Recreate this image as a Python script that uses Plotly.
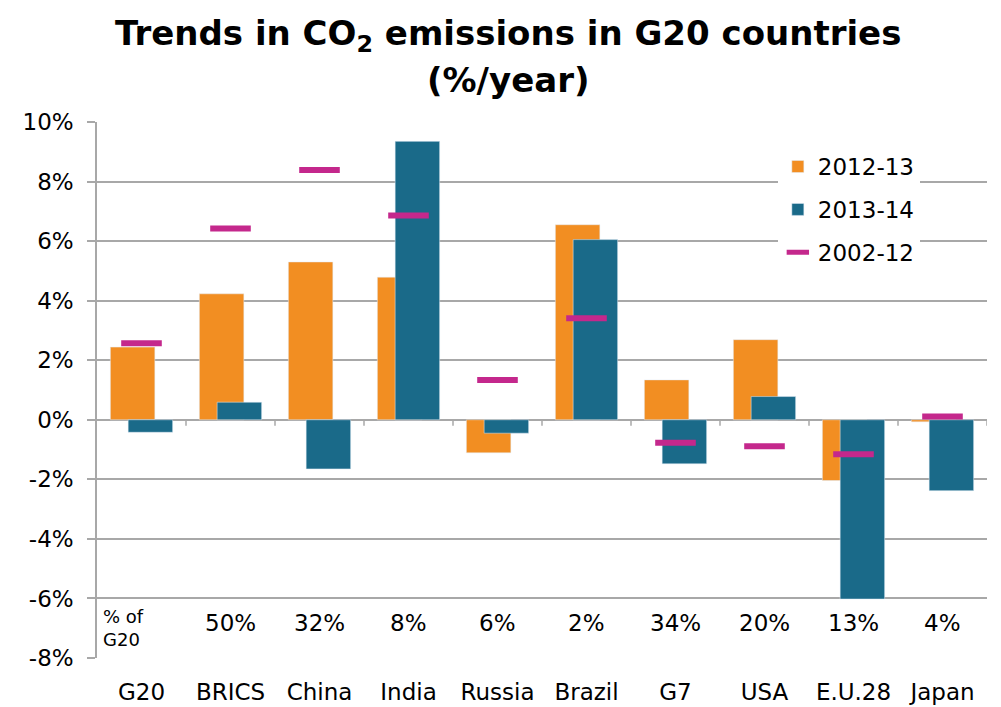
import plotly.graph_objects as go

categories = ["G20", "BRICS", "China", "India", "Russia", "Brazil", "G7", "USA", "E.U.28", "Japan"]
v_2012_13 = [2.44, 4.23, 5.30, 4.79, -1.11, 6.55, 1.34, 2.69, -2.04, -0.07]
v_2013_14 = [-0.42, 0.59, -1.65, 9.35, -0.45, 6.05, -1.48, 0.78, -6.02, -2.38]
v_2002_12 = [2.57, 6.42, 8.39, 6.86, 1.34, 3.41, -0.77, -0.89, -1.16, 0.11]
share_of_g20 = ["", "50%", "32%", "8%", "6%", "2%", "34%", "20%", "13%", "4%"]
y_ticks = [-8, -6, -4, -2, 0, 2, 4, 6, 8, 10]

ORANGE = "#F28E22"
TEAL = "#1A6A89"
MAGENTA = "#C4288C"
GRID = "#A8A8A8"
FONT = "DejaVu Sans"

W, H = 1001, 707
M_L, M_R, M_T, M_B = 97, 14, 122, 49
plot_h = H - M_T - M_B

x_idx = list(range(len(categories)))

fig = go.Figure()
fig.add_trace(go.Bar(
    x=x_idx, y=v_2012_13, name="2012-13", marker_color=ORANGE,
    width=0.5, offset=-0.35, legendgroup="a",
))
fig.add_trace(go.Bar(
    x=x_idx, y=v_2013_14, name="2013-14", marker_color=TEAL,
    width=0.5, offset=-0.15, legendgroup="b",
))
fig.add_trace(go.Scatter(
    x=x_idx, y=v_2002_12, name="2002-12", mode="markers", legendgroup="c",
    marker=dict(symbol="line-ew", size=29, color=MAGENTA,
                line=dict(color=MAGENTA, width=6)),
))


def py(px_from_top):
    """paper y for a pixel row measured from the top of the page"""
    return (H - M_B - px_from_top) / plot_h


annotations = [
    dict(x=0.462, y=py(35), xref="paper", yref="paper", showarrow=False,
         xanchor="center", yanchor="middle",
         text="<b>Trends in CO<sub>2</sub> emissions in G20 countries</b>",
         font=dict(family=FONT, size=34, color="black")),
    dict(x=0.462, y=py(80), xref="paper", yref="paper", showarrow=False,
         xanchor="center", yanchor="middle", text="<b>(%/year)</b>",
         font=dict(family=FONT, size=34, color="black")),
    dict(x=-0.45, y=-7.0, xref="x", yref="y", text="% of<br>G20", showarrow=False,
         xanchor="left", align="left", font=dict(family=FONT, size=18, color="black")),
]
for i, s in enumerate(share_of_g20):
    if s:
        annotations.append(dict(
            x=i, y=-6.83, xref="x", yref="y", text=s, showarrow=False,
            font=dict(family=FONT, size=23, color="black"),
        ))

# tick marks on the zero line between categories
shapes = []
for i in range(len(categories)):
    shapes.append(dict(
        type="line", xref="x", yref="y", x0=i + 0.5, x1=i + 0.5, y0=0, y1=-0.2,
        line=dict(color=GRID, width=1.5),
    ))

fig.update_layout(
    width=W, height=H,
    margin=dict(l=M_L, r=M_R, t=M_T, b=M_B),
    paper_bgcolor="white", plot_bgcolor="white",
    barmode="overlay",
    font=dict(family=FONT, size=23, color="black"),
    legend=dict(
        x=0.765, y=0.957, xanchor="left", yanchor="top", bgcolor="white",
        font=dict(family=FONT, size=23), tracegroupgap=10, traceorder="grouped",
    ),
    xaxis=dict(
        tickmode="array", tickvals=x_idx, ticktext=categories,
        range=[-0.5, len(categories) - 0.5], showgrid=False, zeroline=False,
        showline=False, ticks="", ticklabelstandoff=18, automargin=False,
        tickfont=dict(family=FONT, size=23),
    ),
    yaxis=dict(
        range=[-8, 10], tickmode="array", tickvals=y_ticks,
        ticktext=[f"{t}%" for t in y_ticks],
        showgrid=True, gridcolor=GRID, gridwidth=1.5,
        zeroline=True, zerolinecolor=GRID, zerolinewidth=1.5,
        showline=True, linecolor=GRID, linewidth=1.5,
        ticks="outside", ticklen=8, tickcolor=GRID, tickwidth=1.5,
        ticklabelstandoff=9, automargin=False, tickfont=dict(family=FONT, size=23),
    ),
    annotations=annotations,
    shapes=shapes,
)

fig.write_html("out.html")
